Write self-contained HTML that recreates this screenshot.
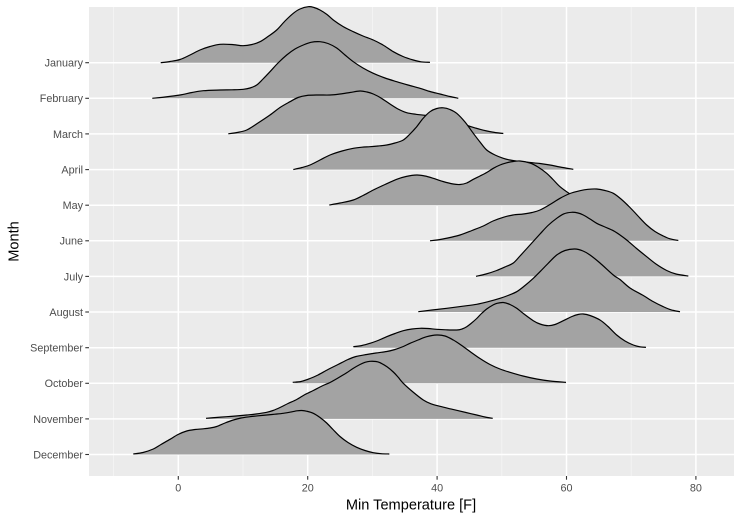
<!DOCTYPE html>
<html>
<head>
<meta charset="utf-8">
<style>
  html, body { margin: 0; padding: 0; background: #ffffff; }
  svg { display: block; }
  text { font-family: "Liberation Sans", Arial, sans-serif; }
</style>
</head>
<body>
<svg id="chart" width="741" height="519" viewBox="0 0 741 519" xmlns="http://www.w3.org/2000/svg">
  <rect x="0" y="0" width="741" height="519" fill="#ffffff"/>
  <!-- panel -->
  <rect x="89" y="7" width="645" height="469" fill="#EBEBEB"/>
  <!-- minor vertical grid -->
  <g stroke="#F5F5F5" stroke-width="0.8">
    <line x1="113.6" y1="7" x2="113.6" y2="476"/>
    <line x1="243" y1="7" x2="243" y2="476"/>
    <line x1="372.4" y1="7" x2="372.4" y2="476"/>
    <line x1="501.8" y1="7" x2="501.8" y2="476"/>
    <line x1="631.2" y1="7" x2="631.2" y2="476"/>
  </g>
  <!-- major grid -->
  <g stroke="#FFFFFF" stroke-width="1.5">
    <line x1="178.3" y1="7" x2="178.3" y2="476"/>
    <line x1="307.7" y1="7" x2="307.7" y2="476"/>
    <line x1="437.1" y1="7" x2="437.1" y2="476"/>
    <line x1="566.5" y1="7" x2="566.5" y2="476"/>
    <line x1="695.9" y1="7" x2="695.9" y2="476"/>
    <line x1="89" y1="62.7" x2="734" y2="62.7"/>
    <line x1="89" y1="98.3" x2="734" y2="98.3"/>
    <line x1="89" y1="133.9" x2="734" y2="133.9"/>
    <line x1="89" y1="169.6" x2="734" y2="169.6"/>
    <line x1="89" y1="205.2" x2="734" y2="205.2"/>
    <line x1="89" y1="240.8" x2="734" y2="240.8"/>
    <line x1="89" y1="276.4" x2="734" y2="276.4"/>
    <line x1="89" y1="312.0" x2="734" y2="312.0"/>
    <line x1="89" y1="347.7" x2="734" y2="347.7"/>
    <line x1="89" y1="383.3" x2="734" y2="383.3"/>
    <line x1="89" y1="418.9" x2="734" y2="418.9"/>
    <line x1="89" y1="454.5" x2="734" y2="454.5"/>
  </g>

  <!-- January -->
  <path class="rf" fill="#A3A3A3" d="M160.7,62.7 L170,61.5 L180,59.5 L190,55 L200,50 L210,46.5 L220,44.3 L232,44.5 L243,45.7 L252,44.5 L260,41.7 L268,36.5 L276.7,30 L285,21 L293.3,13.3 L300,9 L308.3,6.7 L314,7.5 L320,10 L327,14.5 L333.3,20 L343,26.5 L353.3,31.7 L363,36 L373.3,40 L383,45 L393.3,51.7 L403,56.5 L413.3,60 L421,61.8 L430,62.3 L430,62.7 Z"/>
  <path class="rl" fill="none" stroke="#000" stroke-width="1.2" stroke-linejoin="round" d="M160.7,62.7 L170,61.5 L180,59.5 L190,55 L200,50 L210,46.5 L220,44.3 L232,44.5 L243,45.7 L252,44.5 L260,41.7 L268,36.5 L276.7,30 L285,21 L293.3,13.3 L300,9 L308.3,6.7 L314,7.5 L320,10 L327,14.5 L333.3,20 L343,26.5 L353.3,31.7 L363,36 L373.3,40 L383,45 L393.3,51.7 L403,56.5 L413.3,60 L421,61.8 L430,62.3"/>

  <!-- February -->
  <path class="rf" fill="#A3A3A3" d="M152.3,98.3 L165,97 L180,95 L192,92.5 L203.3,90.7 L220,90 L232,89.8 L243.3,89.3 L250,88 L256.7,85 L263,79 L270,71.7 L278,63 L286.7,55 L295,49 L303.3,45 L311,42.3 L320,41.7 L328,43.5 L336.7,48 L345,55 L353.3,61.7 L363,68 L373.3,73.3 L385,78 L396.7,81.7 L408,85 L420,88.3 L430,91.5 L440,94 L450,96.5 L458.3,98.3 L458.3,98.3 Z"/>
  <path class="rl" fill="none" stroke="#000" stroke-width="1.2" stroke-linejoin="round" d="M152.3,98.3 L165,97 L180,95 L192,92.5 L203.3,90.7 L220,90 L232,89.8 L243.3,89.3 L250,88 L256.7,85 L263,79 L270,71.7 L278,63 L286.7,55 L295,49 L303.3,45 L311,42.3 L320,41.7 L328,43.5 L336.7,48 L345,55 L353.3,61.7 L363,68 L373.3,73.3 L385,78 L396.7,81.7 L408,85 L420,88.3 L430,91.5 L440,94 L450,96.5 L458.3,98.3"/>

  <!-- March -->
  <path class="rf" fill="#A3A3A3" d="M228.3,133.9 L237,132.5 L246.7,130 L258,123 L270,115 L280,107.5 L290,101.7 L298,97.5 L306.7,95.5 L318,95 L330,95 L340,94 L350,92.5 L360,91 L367,92 L373.3,94 L381,98 L390,104 L398,109 L406.7,112.7 L416,114.3 L426.7,115.5 L440,118 L453.3,121.7 L467,125.5 L480,129.3 L492,132 L503.3,133.5 L503.3,133.9 Z"/>
  <path class="rl" fill="none" stroke="#000" stroke-width="1.2" stroke-linejoin="round" d="M228.3,133.8 L237,132.5 L246.7,130 L258,123 L270,115 L280,107.5 L290,101.7 L298,97.5 L306.7,95.5 L318,95 L330,95 L340,94 L350,92.5 L360,91 L367,92 L373.3,94 L381,98 L390,104 L398,109 L406.7,112.7 L416,114.3 L426.7,115.5 L440,118 L453.3,121.7 L467,125.5 L480,129.3 L492,132 L503.3,133.5"/>

  <!-- April -->
  <path class="rf" fill="#A3A3A3" d="M293.3,169.6 L302,167.5 L310,165 L320,160 L330,155 L342,151 L353.3,148.3 L362,147.2 L370,146.7 L378,146 L386.7,145 L395,143 L403.3,140 L410,134 L416.7,126.7 L423,118.5 L430,111.7 L436.7,108.5 L443.3,107.8 L450,109.5 L456.7,113.3 L465,122 L473.3,133.3 L480,142 L486.7,150 L495,155 L503.3,158.3 L510,160 L520,161.5 L530,162.5 L540,163.5 L550,165 L560,167 L573.3,169.3 L573.3,169.6 Z"/>
  <path class="rl" fill="none" stroke="#000" stroke-width="1.2" stroke-linejoin="round" d="M293.3,169.5 L302,167.5 L310,165 L320,160 L330,155 L342,151 L353.3,148.3 L362,147.2 L370,146.7 L378,146 L386.7,145 L395,143 L403.3,140 L410,134 L416.7,126.7 L423,118.5 L430,111.7 L436.7,108.5 L443.3,107.8 L450,109.5 L456.7,113.3 L465,122 L473.3,133.3 L480,142 L486.7,150 L495,155 L503.3,158.3 L510,160 L520,161.5 L530,162.5 L540,163.5 L550,165 L560,167 L573.3,169.3"/>

  <!-- May -->
  <path class="rf" fill="#A3A3A3" d="M329.3,205.2 L340,203 L353.3,200 L363,195.5 L373.3,190 L385,184.5 L396.7,179.3 L406,176.5 L416.7,175 L425,176 L433.3,178.3 L443,181.5 L453.3,184 L460,184.5 L466.7,183 L473.3,179.3 L480,176 L486.7,172.5 L493.3,168.3 L500,165 L506.7,162.8 L513.3,161.5 L520,161 L530,163 L538,167 L546.7,173.3 L553,179.5 L560,186.7 L570,194 L580,200 L590,203.5 L600,205 L608,205.2 L608,205.2 Z"/>
  <path class="rl" fill="none" stroke="#000" stroke-width="1.2" stroke-linejoin="round" d="M329.3,205 L340,203 L353.3,200 L363,195.5 L373.3,190 L385,184.5 L396.7,179.3 L406,176.5 L416.7,175 L425,176 L433.3,178.3 L443,181.5 L453.3,184 L460,184.5 L466.7,183 L473.3,179.3 L480,176 L486.7,172.5 L493.3,168.3 L500,165 L506.7,162.8 L513.3,161.5 L520,161 L530,163 L538,167 L546.7,173.3 L553,179.5 L560,186.7 L570,194 L580,200 L590,203.5 L600,205 L608,205.2"/>

  <!-- June -->
  <path class="rf" fill="#A3A3A3" d="M430,240.8 L440,239.5 L450,237.5 L460,235 L472,230.5 L483.3,226 L493,221 L503.3,217.3 L513,215 L523.3,214 L532,212.5 L540,210 L550,204.5 L560,198.3 L570,193.5 L580,190.7 L588,189.3 L596.7,189 L605,190.5 L613.3,193.3 L621,199 L630,207.5 L638,216 L646.7,225 L655,231.5 L663.3,236 L670,238.8 L678.3,240.5 L678.3,240.8 Z"/>
  <path class="rl" fill="none" stroke="#000" stroke-width="1.2" stroke-linejoin="round" d="M430,240.8 L440,239.5 L450,237.5 L460,235 L472,230.5 L483.3,226 L493,221 L503.3,217.3 L513,215 L523.3,214 L532,212.5 L540,210 L550,204.5 L560,198.3 L570,193.5 L580,190.7 L588,189.3 L596.7,189 L605,190.5 L613.3,193.3 L621,199 L630,207.5 L638,216 L646.7,225 L655,231.5 L663.3,236 L670,238.8 L678.3,240.5"/>

  <!-- July -->
  <path class="rf" fill="#A3A3A3" d="M476,276.4 L486,274 L496.7,270.5 L506,266.5 L513.3,263 L520,256 L530,245 L540,234 L548,225.5 L556.7,218.3 L564,213.8 L571.7,212.3 L578,213 L583.3,215 L590,219 L596.7,223.3 L605,227 L613.3,230.7 L620,235 L626.7,240 L636,248 L646.7,256.7 L656,264 L666.7,270.5 L676,274 L688.3,276 L688.3,276.4 Z"/>
  <path class="rl" fill="none" stroke="#000" stroke-width="1.2" stroke-linejoin="round" d="M476,276.3 L486,274 L496.7,270.5 L506,266.5 L513.3,263 L520,256 L530,245 L540,234 L548,225.5 L556.7,218.3 L564,213.8 L571.7,212.3 L578,213 L583.3,215 L590,219 L596.7,223.3 L605,227 L613.3,230.7 L620,235 L626.7,240 L636,248 L646.7,256.7 L656,264 L666.7,270.5 L676,274 L688.3,276"/>

  <!-- August -->
  <path class="rf" fill="#A3A3A3" d="M418.3,312 L432,310 L446.7,308.3 L462,306.3 L476.7,304.3 L488,301.7 L500,298.3 L508,295.5 L516.7,291.7 L525,285.5 L533.3,278.3 L540,271.7 L548,263.5 L556.7,255 L565,250.5 L575,249 L583,251 L590,255 L600,263 L613.3,275 L620,279.5 L630,288 L643.3,295.5 L653,301.5 L663.3,306.7 L671,309.8 L680,311.7 L680,312 Z"/>
  <path class="rl" fill="none" stroke="#000" stroke-width="1.2" stroke-linejoin="round" d="M418.3,311.7 L432,310 L446.7,308.3 L462,306.3 L476.7,304.3 L488,301.7 L500,298.3 L508,295.5 L516.7,291.7 L525,285.5 L533.3,278.3 L540,271.7 L548,263.5 L556.7,255 L565,250.5 L575,249 L583,251 L590,255 L600,263 L613.3,275 L620,279.5 L630,288 L643.3,295.5 L653,301.5 L663.3,306.7 L671,309.8 L680,311.7"/>

  <!-- September -->
  <path class="rf" fill="#A3A3A3" d="M353.3,347.7 L362,345.5 L370,343.3 L378,340.5 L386.7,336.7 L395,333.5 L403.3,330.7 L412,329 L420,328.3 L428,328.5 L436.7,329.3 L446,329.8 L456.7,330 L462,329 L466.7,326.7 L471,323.5 L476.7,318.5 L481,314 L486.7,309 L493,305 L497,303.3 L503.3,302.5 L510,304.5 L516.7,308.3 L524,314 L533.3,320.7 L540,324 L548.3,325.7 L555,324.5 L563.3,320.7 L572,316.5 L578,314.5 L583.3,314 L590,315.5 L600,320 L608,326.5 L616.7,335 L625,341 L633.3,345 L640,346.8 L646,347.3 L646,347.7 Z"/>
  <path class="rl" fill="none" stroke="#000" stroke-width="1.2" stroke-linejoin="round" d="M353.3,346.7 L362,345.5 L370,343.3 L378,340.5 L386.7,336.7 L395,333.5 L403.3,330.7 L412,329 L420,328.3 L428,328.5 L436.7,329.3 L446,329.8 L456.7,330 L462,329 L466.7,326.7 L471,323.5 L476.7,318.5 L481,314 L486.7,309 L493,305 L497,303.3 L503.3,302.5 L510,304.5 L516.7,308.3 L524,314 L533.3,320.7 L540,324 L548.3,325.7 L555,324.5 L563.3,320.7 L572,316.5 L578,314.5 L583.3,314 L590,315.5 L600,320 L608,326.5 L616.7,335 L625,341 L633.3,345 L640,346.8 L646,347.3"/>

  <!-- October -->
  <path class="rf" fill="#A3A3A3" d="M292.7,383.3 L301,381.5 L310,378.5 L318,375 L328,369.5 L338,364.5 L348,359.5 L356,356.5 L366.7,354.5 L376,353 L386.7,351.5 L395,349.5 L403.3,346.5 L410,343.3 L418,340 L426.7,336.7 L436.7,335 L445,336 L453.3,340 L461,345 L470,351.5 L480,358.5 L490,364.5 L500,369 L510,372.3 L523,376 L536.7,379 L550,381 L566,382.3 L566,383.3 Z"/>
  <path class="rl" fill="none" stroke="#000" stroke-width="1.2" stroke-linejoin="round" d="M292.7,382.3 L301,381.5 L310,378.5 L318,375 L328,369.5 L338,364.5 L348,359.5 L356,356.5 L366.7,354.5 L376,353 L386.7,351.5 L395,349.5 L403.3,346.5 L410,343.3 L418,340 L426.7,336.7 L436.7,335 L445,336 L453.3,340 L461,345 L470,351.5 L480,358.5 L490,364.5 L500,369 L510,372.3 L523,376 L536.7,379 L550,381 L566,382.3"/>

  <!-- November -->
  <path class="rf" fill="#A3A3A3" d="M206,418.9 L216,417.5 L226.7,416.7 L236,416 L246.7,415 L256,414 L266.7,412.3 L273,410.5 L280,407.5 L288,403.5 L296.7,399.5 L305,394.5 L313.3,390.5 L322,386 L330,382.5 L338,378 L346.7,372.8 L353,368.5 L360,364.5 L365,362.3 L370,361.3 L376,361.5 L380,362.7 L387,366.8 L393.3,372 L398,377 L403.3,383.3 L413,392 L423.3,400 L431,403.8 L440,406.3 L448,408.3 L456.7,410.3 L466,412.5 L476.7,415 L485,417 L492.7,418.3 L492.7,418.9 Z"/>
  <path class="rl" fill="none" stroke="#000" stroke-width="1.2" stroke-linejoin="round" d="M206,418.3 L216,417.5 L226.7,416.7 L236,416 L246.7,415 L256,414 L266.7,412.3 L273,410.5 L280,407.5 L288,403.5 L296.7,399.5 L305,394.5 L313.3,390.5 L322,386 L330,382.5 L338,378 L346.7,372.8 L353,368.5 L360,364.5 L365,362.3 L370,361.3 L376,361.5 L380,362.7 L387,366.8 L393.3,372 L398,377 L403.3,383.3 L413,392 L423.3,400 L431,403.8 L440,406.3 L448,408.3 L456.7,410.3 L466,412.5 L476.7,415 L485,417 L492.7,418.3"/>

  <!-- December -->
  <path class="rf" fill="#A3A3A3" d="M133.3,454.5 L143,452.5 L153.3,449 L161,444.5 L170,439.3 L178,434.5 L186.7,431 L195,429.5 L203.3,428.8 L210,428 L216.7,426.5 L225,423 L233.3,420 L241,418 L250,416.7 L258,415.8 L266.7,415 L275,414.2 L283.3,413.3 L292,411.8 L297,410.8 L301.7,410.5 L307,411.3 L313.3,413.3 L320,417.5 L326.7,423 L333,429.5 L340,436.5 L348,442.5 L356.7,447.3 L365,450.5 L373.3,452.7 L381,453.7 L389.3,454 L389.3,454.5 Z"/>
  <path class="rl" fill="none" stroke="#000" stroke-width="1.2" stroke-linejoin="round" d="M133.3,454 L143,452.5 L153.3,449 L161,444.5 L170,439.3 L178,434.5 L186.7,431 L195,429.5 L203.3,428.8 L210,428 L216.7,426.5 L225,423 L233.3,420 L241,418 L250,416.7 L258,415.8 L266.7,415 L275,414.2 L283.3,413.3 L292,411.8 L297,410.8 L301.7,410.5 L307,411.3 L313.3,413.3 L320,417.5 L326.7,423 L333,429.5 L340,436.5 L348,442.5 L356.7,447.3 L365,450.5 L373.3,452.7 L381,453.7 L389.3,454"/>

  <!-- axis ticks -->
  <g stroke="#333333" stroke-width="1.1">
    <line x1="85.3" y1="62.7" x2="89" y2="62.7"/>
    <line x1="85.3" y1="98.3" x2="89" y2="98.3"/>
    <line x1="85.3" y1="133.9" x2="89" y2="133.9"/>
    <line x1="85.3" y1="169.6" x2="89" y2="169.6"/>
    <line x1="85.3" y1="205.2" x2="89" y2="205.2"/>
    <line x1="85.3" y1="240.8" x2="89" y2="240.8"/>
    <line x1="85.3" y1="276.4" x2="89" y2="276.4"/>
    <line x1="85.3" y1="312.0" x2="89" y2="312.0"/>
    <line x1="85.3" y1="347.7" x2="89" y2="347.7"/>
    <line x1="85.3" y1="383.3" x2="89" y2="383.3"/>
    <line x1="85.3" y1="418.9" x2="89" y2="418.9"/>
    <line x1="85.3" y1="454.5" x2="89" y2="454.5"/>
    <line x1="178.3" y1="476" x2="178.3" y2="479.7"/>
    <line x1="307.7" y1="476" x2="307.7" y2="479.7"/>
    <line x1="437.1" y1="476" x2="437.1" y2="479.7"/>
    <line x1="566.5" y1="476" x2="566.5" y2="479.7"/>
    <line x1="695.9" y1="476" x2="695.9" y2="479.7"/>
  </g>

  <!-- y tick labels -->
  <g fill="#4D4D4D" font-size="10.8" text-anchor="end">
    <text x="83" y="66.6">January</text>
    <text x="83" y="102.2">February</text>
    <text x="83" y="137.8">March</text>
    <text x="83" y="173.5">April</text>
    <text x="83" y="209.1">May</text>
    <text x="83" y="244.7">June</text>
    <text x="83" y="280.3">July</text>
    <text x="83" y="315.9">August</text>
    <text x="83" y="351.6">September</text>
    <text x="83" y="387.2">October</text>
    <text x="83" y="422.8">November</text>
    <text x="83" y="458.4">December</text>
  </g>

  <!-- x tick labels -->
  <g fill="#4D4D4D" font-size="10.8" text-anchor="middle">
    <text x="178.3" y="491.4">0</text>
    <text x="307.7" y="491.4">20</text>
    <text x="437.1" y="491.4">40</text>
    <text x="566.5" y="491.4">60</text>
    <text x="695.9" y="491.4">80</text>
  </g>

  <!-- axis titles -->
  <text x="411" y="509.7" font-size="14.6" text-anchor="middle" fill="#000">Min Temperature [F]</text>
  <text transform="translate(18.5,241.5) rotate(-90)" font-size="14.6" text-anchor="middle" fill="#000">Month</text>
</svg>
<script>
(function(){
  try {
    function parse(d){
      var nums = d.replace(/[MLZ]/g,' ').trim().split(/[\s,]+/).map(Number);
      var pts = [];
      for (var i=0;i+1<nums.length;i+=2) pts.push([nums[i],nums[i+1]]);
      return pts;
    }
    function smooth(pts){
      var s = 'M'+pts[0][0]+','+pts[0][1];
      for (var i=0;i<pts.length-1;i++){
        var p0 = pts[i>0?i-1:i], p1 = pts[i], p2 = pts[i+1], p3 = pts[i+2<pts.length?i+2:i+1];
        var c1x = p1[0]+(p2[0]-p0[0])/6, c1y = p1[1]+(p2[1]-p0[1])/6;
        var c2x = p2[0]-(p3[0]-p1[0])/6, c2y = p2[1]-(p3[1]-p1[1])/6;
        s += ' C'+c1x.toFixed(2)+','+c1y.toFixed(2)+' '+c2x.toFixed(2)+','+c2y.toFixed(2)+' '+p2[0]+','+p2[1];
      }
      return s;
    }
    var lines = document.querySelectorAll('path.rl');
    for (var i=0;i<lines.length;i++){
      var p = parse(lines[i].getAttribute('d'));
      if (p.length>2) lines[i].setAttribute('d', smooth(p));
    }
    var fills = document.querySelectorAll('path.rf');
    for (var j=0;j<fills.length;j++){
      var q = parse(fills[j].getAttribute('d'));
      if (q.length>3){
        var last = q[q.length-1];
        var curve = q.slice(0,q.length-1);
        fills[j].setAttribute('d', smooth(curve)+' L'+last[0]+','+last[1]+' Z');
      }
    }
  } catch(e) {}
})();
</script>
</body>
</html>
